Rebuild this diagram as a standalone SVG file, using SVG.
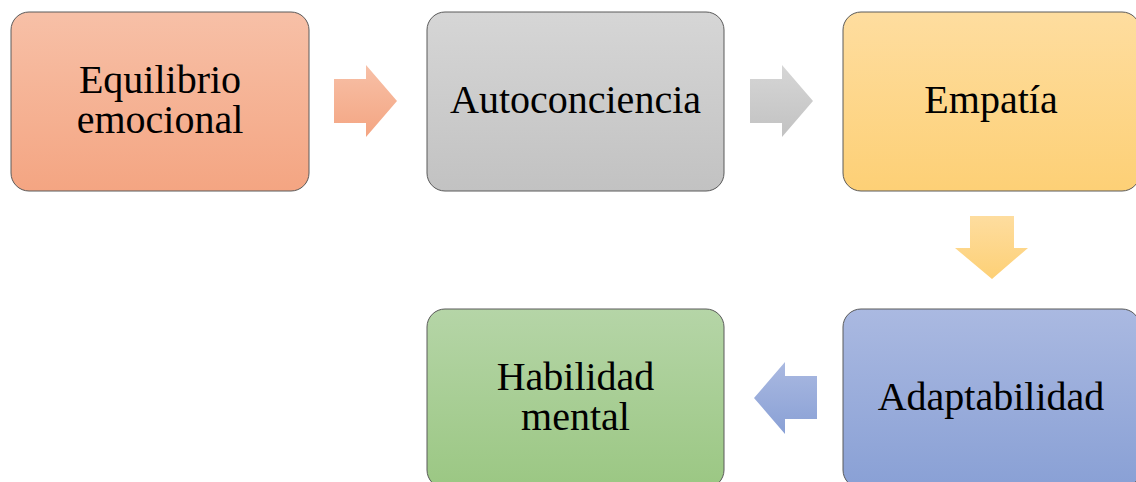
<svg xmlns="http://www.w3.org/2000/svg" width="1136" height="482" viewBox="0 0 1136 482">
<defs>
<linearGradient id="gOrange" x1="0" y1="0" x2="0" y2="1"><stop offset="0" stop-color="#f7c0a7"/><stop offset="1" stop-color="#f4a582"/></linearGradient>
<linearGradient id="gGray" x1="0" y1="0" x2="0" y2="1"><stop offset="0" stop-color="#d6d6d6"/><stop offset="1" stop-color="#c2c2c2"/></linearGradient>
<linearGradient id="gYellow" x1="0" y1="0" x2="0" y2="1"><stop offset="0" stop-color="#fedd9f"/><stop offset="1" stop-color="#fdd076"/></linearGradient>
<linearGradient id="gBlue" x1="0" y1="0" x2="0" y2="1"><stop offset="0" stop-color="#aab9e1"/><stop offset="1" stop-color="#89a0d5"/></linearGradient>
<linearGradient id="gGreen" x1="0" y1="0" x2="0" y2="1"><stop offset="0" stop-color="#b5d5a7"/><stop offset="1" stop-color="#9bc783"/></linearGradient>
</defs>
<style>
.box{stroke:#5a5a5a;stroke-width:1}
.lbl{font-family:"Liberation Serif","Times New Roman",serif;font-size:40px;fill:#000;text-anchor:middle}
</style>
<g id="connectors">
<polygon points="334,79 366,79 366,65 397,101 366,137 366,123 334,123" fill="url(#gOrange)"/>
<polygon points="750,79 782,79 782,65 813,101 782,137 782,123 750,123" fill="url(#gGray)"/>
<polygon points="970,216 1014,216 1014,248 1028,248 992,279 955,248 970,248" fill="url(#gYellow)"/>
<polygon points="817,376 785,376 785,362 754,398 785,434 785,419 817,419" fill="url(#gBlue)"/>
</g>
<g id="node-equilibrio">
<rect class="box" x="11" y="12" width="298" height="179" rx="18" fill="url(#gOrange)"/>
<text class="lbl" x="160" y="93">Equilibrio</text>
<text class="lbl" x="160" y="133">emocional</text>
</g>
<g id="node-autoconciencia">
<rect class="box" x="427" y="12" width="297" height="179" rx="18" fill="url(#gGray)"/>
<text class="lbl" x="575.5" y="113">Autoconciencia</text>
</g>
<g id="node-empatia">
<rect class="box" x="843" y="12" width="297" height="179" rx="18" fill="url(#gYellow)"/>
<text class="lbl" x="991" y="113">Empatía</text>
</g>
<g id="node-adaptabilidad">
<rect class="box" x="843" y="309" width="297" height="179" rx="18" fill="url(#gBlue)"/>
<text class="lbl" x="991" y="410">Adaptabilidad</text>
</g>
<g id="node-habilidad">
<rect class="box" x="427" y="309" width="297" height="179" rx="18" fill="url(#gGreen)"/>
<text class="lbl" x="575.5" y="390">Habilidad</text>
<text class="lbl" x="575.5" y="430">mental</text>
</g>
</svg>
